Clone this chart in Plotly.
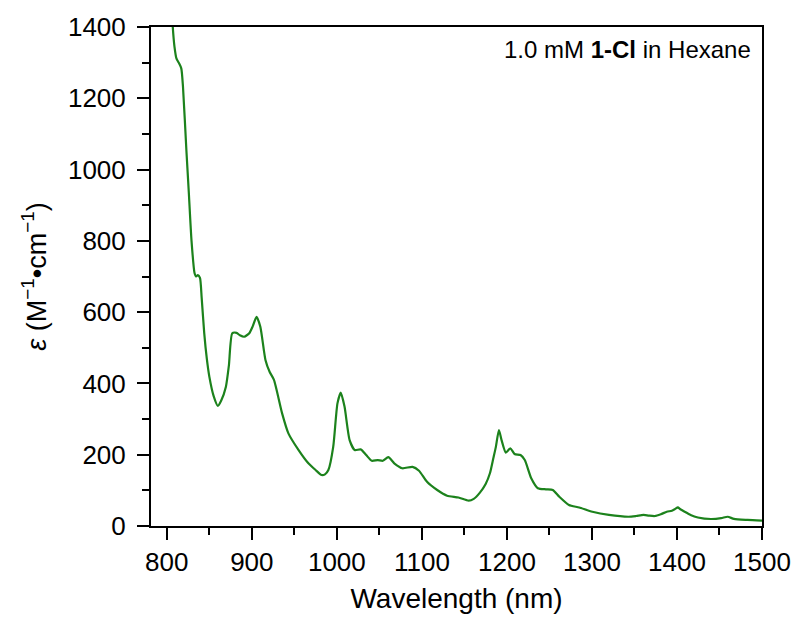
import plotly.graph_objects as go

wavelength = [805, 807, 809, 811.3, 814, 817, 819, 823, 826, 829, 832.6, 834.5, 836.5, 839, 841, 844, 847, 850, 855, 860, 864,
              869.5, 873, 877, 882, 886, 891, 897, 901, 905.6, 910, 916, 921, 926, 935.6, 943, 955, 966.5, 975, 982, 986,
              990, 995.7, 1000.7, 1004.6, 1009, 1015, 1021, 1028, 1034.5, 1041, 1048, 1054, 1060.5, 1067.5, 1077,
              1089, 1096.6, 1106, 1118, 1129.6, 1143, 1155, 1161, 1168, 1175, 1180, 1184, 1187, 1190.6, 1193.7, 1198.7,
              1204, 1209, 1216, 1221, 1228.6, 1236.4, 1246, 1254, 1261.6, 1273, 1285, 1300.5, 1320, 1343, 1352, 1360.6,
              1367, 1374, 1381, 1388, 1394, 1398, 1401, 1404, 1409, 1416, 1424.6, 1440, 1452, 1459.6, 1467, 1483, 1500]
epsilon = [1500, 1400, 1345, 1312, 1300, 1284, 1233, 1055, 930, 802, 710, 700, 704, 696, 640, 541, 470, 419, 365, 337, 352,
           391, 450, 541, 542, 535, 531, 541, 560, 587, 559, 466, 432, 410, 316, 260, 213, 176, 157, 143, 145,
           157, 222, 344, 374, 335, 241, 213, 215, 199, 183, 185, 183, 193, 176, 162,
           166, 155, 124, 101, 85, 80, 71, 76, 93, 118, 148, 190, 222, 269, 241, 206,
           218, 202, 199, 185, 134, 106, 103, 101, 82, 59, 52, 40, 31, 26, 28, 31,
           29, 28, 33, 40, 43, 48, 52, 47, 40, 31, 24, 19.6, 22, 26, 20, 17, 15]

x_ticks = [800, 900, 1000, 1100, 1200, 1300, 1400, 1500]
y_ticks = [0, 200, 400, 600, 800, 1000, 1200, 1400]

fig = go.Figure()
fig.add_trace(go.Scatter(x=wavelength, y=epsilon, mode="lines",
                         line=dict(color="#1c821c", width=2.2, shape="spline", smoothing=0.6),
                         showlegend=False, hoverinfo="skip"))

font_family = "Liberation Sans, Arial, sans-serif"
axis_common = dict(showline=True, linecolor="black", linewidth=2, mirror=True, showgrid=False, zeroline=False,
                   ticks="outside", tickcolor="black", tickwidth=2, ticklen=12,
                   tickfont=dict(family=font_family, size=26, color="black"))

fig.update_layout(
    width=803, height=627,
    margin=dict(l=151, r=35, t=27, b=101),
    paper_bgcolor="white", plot_bgcolor="white",
    font=dict(family=font_family, color="black"),
    xaxis=dict(range=[781.4, 1500], tickvals=x_ticks, ticktext=[str(v) for v in x_ticks],
               minor=dict(ticks="outside", ticklen=7, tickwidth=2, tickcolor="black", dtick=50, tick0=750),
               title=dict(text="Wavelength (nm)", font=dict(size=28, family=font_family), standoff=12),
               ticklabelstandoff=0, **axis_common),
    yaxis=dict(range=[0, 1400], tickvals=y_ticks, ticktext=[str(v) for v in y_ticks],
               minor=dict(ticks="outside", ticklen=7, tickwidth=2, tickcolor="black", dtick=100, tick0=0),
               title=dict(text="<i>ε</i> (M<sup>−1</sup>•cm<sup>−1</sup>)", font=dict(size=27, family=font_family),
                          standoff=14),
               ticklabelstandoff=6, **axis_common),
    annotations=[dict(text="1.0 mM <b>1-Cl</b> in Hexane", xref="paper", yref="paper", x=0.985, y=0.985,
                      xanchor="right", yanchor="top", showarrow=False,
                      font=dict(family=font_family, size=24, color="black"))],
)

fig.write_html("out.html")
